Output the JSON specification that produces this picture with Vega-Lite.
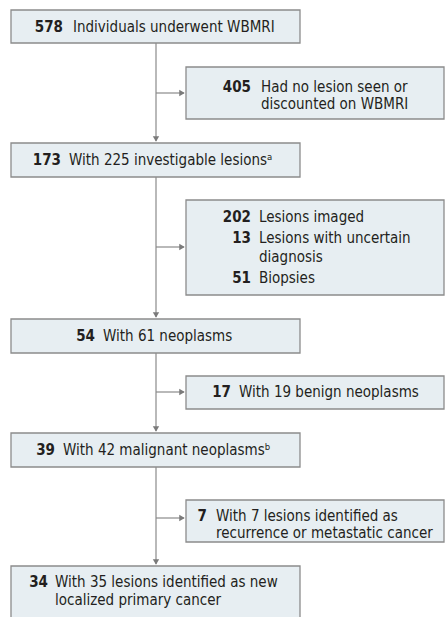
{
  "$schema": "https://vega.github.io/schema/vega-lite/v6.json",
  "width": 445,
  "height": 617,
  "padding": 0,
  "autosize": {"type": "none"},
  "background": "#ffffff",
  "config": {"view": {"stroke": null}},
  "datasets": {
    "boxes": [
      {"x": 11, "x2": 300, "y": 10, "y2": 43},
      {"x": 186, "x2": 444, "y": 67, "y2": 119},
      {"x": 11, "x2": 300, "y": 143, "y2": 177},
      {"x": 186, "x2": 444, "y": 200, "y2": 295},
      {"x": 11, "x2": 300, "y": 319, "y2": 353},
      {"x": 186, "x2": 444, "y": 376, "y2": 409},
      {"x": 11, "x2": 300, "y": 433, "y2": 467},
      {"x": 186, "x2": 444, "y": 500, "y2": 542},
      {"x": 11, "x2": 300, "y": 566, "y2": 630}
    ],
    "lines": [
      {"x": 156, "x2": 156, "y": 43, "y2": 141},
      {"x": 156, "x2": 156, "y": 177, "y2": 317},
      {"x": 156, "x2": 156, "y": 353, "y2": 431},
      {"x": 156, "x2": 156, "y": 467, "y2": 564},
      {"x": 156, "x2": 184, "y": 93, "y2": 93},
      {"x": 156, "x2": 184, "y": 247, "y2": 247},
      {"x": 156, "x2": 184, "y": 392, "y2": 392},
      {"x": 156, "x2": 184, "y": 518, "y2": 518}
    ],
    "heads": [
      {"x": 156, "y": 139, "shape": "triangle-down"},
      {"x": 156, "y": 315, "shape": "triangle-down"},
      {"x": 156, "y": 429, "shape": "triangle-down"},
      {"x": 156, "y": 562, "shape": "triangle-down"},
      {"x": 182, "y": 93, "shape": "triangle-right"},
      {"x": 182, "y": 247, "shape": "triangle-right"},
      {"x": 182, "y": 392, "shape": "triangle-right"},
      {"x": 182, "y": 518, "shape": "triangle-right"}
    ],
    "nums": [
      {"x": 63, "y": 32, "t": "578"},
      {"x": 251, "y": 92, "t": "405"},
      {"x": 61, "y": 165, "t": "173"},
      {"x": 251, "y": 222, "t": "202"},
      {"x": 251, "y": 243, "t": "13"},
      {"x": 251, "y": 283, "t": "51"},
      {"x": 95, "y": 341, "t": "54"},
      {"x": 231, "y": 397, "t": "17"},
      {"x": 55, "y": 455, "t": "39"},
      {"x": 207, "y": 521, "t": "7"},
      {"x": 48, "y": 587, "t": "34"}
    ],
    "labels": [
      {"x": 73, "y": 32, "t": "Individuals underwent WBMRI"},
      {"x": 261, "y": 92, "t": "Had no lesion seen or"},
      {"x": 261, "y": 109, "t": "discounted on WBMRI"},
      {"x": 69, "y": 165, "t": "With 225 investigable lesionsᵃ"},
      {"x": 259, "y": 222, "t": "Lesions imaged"},
      {"x": 259, "y": 243, "t": "Lesions with uncertain"},
      {"x": 259, "y": 262, "t": "diagnosis"},
      {"x": 259, "y": 283, "t": "Biopsies"},
      {"x": 103, "y": 341, "t": "With 61 neoplasms"},
      {"x": 239, "y": 397, "t": "With 19 benign neoplasms"},
      {"x": 63, "y": 455, "t": "With 42 malignant neoplasmsᵇ"},
      {"x": 216, "y": 521, "t": "With 7 lesions identified as"},
      {"x": 216, "y": 538, "t": "recurrence or metastatic cancer"},
      {"x": 55, "y": 587, "t": "With 35 lesions identified as new"},
      {"x": 55, "y": 605, "t": "localized primary cancer"}
    ]
  },
  "layer": [
    {
      "data": {"name": "lines"},
      "mark": {"type": "rule", "color": "#8a8a8a", "strokeWidth": 1.2},
      "encoding": {
        "x": {"field": "x", "type": "quantitative", "scale": {"domain": [0, 445], "nice": false, "zero": false}, "axis": null},
        "x2": {"field": "x2"},
        "y": {"field": "y", "type": "quantitative", "scale": {"domain": [0, 617], "nice": false, "zero": false, "reverse": true}, "axis": null},
        "y2": {"field": "y2"}
      }
    },
    {
      "data": {"name": "heads"},
      "mark": {"type": "point", "filled": true, "color": "#7a7a7a", "opacity": 1, "size": 40},
      "encoding": {
        "x": {"field": "x", "type": "quantitative", "scale": {"domain": [0, 445], "nice": false, "zero": false}, "axis": null},
        "y": {"field": "y", "type": "quantitative", "scale": {"domain": [0, 617], "nice": false, "zero": false, "reverse": true}, "axis": null},
        "shape": {"field": "shape", "type": "nominal", "scale": null, "legend": null}
      }
    },
    {
      "data": {"name": "boxes"},
      "mark": {"type": "rect", "fill": "#e7eef2", "stroke": "#8c8c8c", "strokeWidth": 1.3, "clip": true},
      "encoding": {
        "x": {"field": "x", "type": "quantitative", "scale": {"domain": [0, 445], "nice": false, "zero": false}, "axis": null},
        "x2": {"field": "x2"},
        "y": {"field": "y", "type": "quantitative", "scale": {"domain": [0, 617], "nice": false, "zero": false, "reverse": true}, "axis": null},
        "y2": {"field": "y2"}
      }
    },
    {
      "data": {"name": "nums"},
      "mark": {"type": "text", "align": "right", "baseline": "alphabetic", "font": "DejaVu Sans Condensed, sans-serif", "fontSize": 15, "fontWeight": "bold", "color": "#231f20"},
      "encoding": {
        "x": {"field": "x", "type": "quantitative", "scale": {"domain": [0, 445], "nice": false, "zero": false}, "axis": null},
        "y": {"field": "y", "type": "quantitative", "scale": {"domain": [0, 617], "nice": false, "zero": false, "reverse": true}, "axis": null},
        "text": {"field": "t", "type": "nominal"}
      }
    },
    {
      "data": {"name": "labels"},
      "mark": {"type": "text", "align": "left", "baseline": "alphabetic", "font": "DejaVu Sans Condensed, sans-serif", "fontSize": 15, "color": "#231f20"},
      "encoding": {
        "x": {"field": "x", "type": "quantitative", "scale": {"domain": [0, 445], "nice": false, "zero": false}, "axis": null},
        "y": {"field": "y", "type": "quantitative", "scale": {"domain": [0, 617], "nice": false, "zero": false, "reverse": true}, "axis": null},
        "text": {"field": "t", "type": "nominal"}
      }
    }
  ]
}
